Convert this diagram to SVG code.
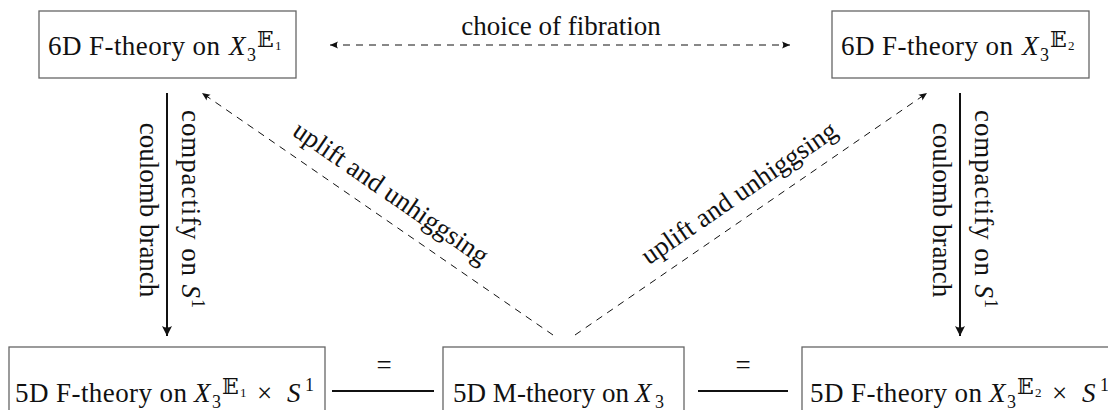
<svg xmlns="http://www.w3.org/2000/svg" width="1108" height="410" viewBox="0 0 1108 410">
<style>
text{font-family:"Liberation Serif","Times New Roman",serif;font-size:27px;fill:#111}
.box{fill:#fff;stroke:#666;stroke-width:1.3}
.it{font-style:italic}
.bb{font-family:"DejaVu Serif","DejaVu Sans",serif;font-size:22px}
.sub{font-size:18px}
.ss{font-size:13px}
.dash{stroke:#111;stroke-width:1;stroke-dasharray:7 6;fill:none}
.solid{stroke:#111;stroke-width:2;fill:none}
.eq{stroke:#111;stroke-width:1.8;fill:none}
</style>
<defs>
<marker id="hs" markerUnits="userSpaceOnUse" orient="auto-start-reverse" overflow="visible" markerWidth="10" markerHeight="10" refX="0" refY="0"><path d="M0,0 L-8,-3.5 Q-5.5,0 -8,3.5 Z" fill="#111"/></marker>
<marker id="hb" markerUnits="userSpaceOnUse" orient="auto" overflow="visible" markerWidth="12" markerHeight="12" refX="0" refY="0"><path d="M0,0 L-10,-5 Q-7,0 -10,5 Z" fill="#111"/></marker>
</defs>

<g id="connectors">
<line class="dash" x1="330" y1="45" x2="790" y2="45" marker-start="url(#hs)" marker-end="url(#hs)"/>
<text x="561" y="35" text-anchor="middle" font-size="26.5">choice of fibration</text>
<line class="solid" x1="167" y1="93" x2="167" y2="336" marker-end="url(#hb)"/>
<text transform="translate(182,209) rotate(90)" text-anchor="middle" font-size="26.5" textLength="198">compactify on <tspan class="it">S</tspan><tspan dy="-10" class="sub">1</tspan></text>
<text transform="translate(140,210) rotate(90)" text-anchor="middle" font-size="26.5">coulomb branch</text>
<line class="solid" x1="960" y1="93" x2="960" y2="336" marker-end="url(#hb)"/>
<text transform="translate(975,209) rotate(90)" text-anchor="middle" font-size="26.5" textLength="198">compactify on <tspan class="it">S</tspan><tspan dy="-10" class="sub">1</tspan></text>
<text transform="translate(933,210) rotate(90)" text-anchor="middle" font-size="26.5">coulomb branch</text>
<line class="dash" x1="553" y1="335" x2="202" y2="93" marker-end="url(#hs)"/>
<text transform="translate(386,200) rotate(34.6)" text-anchor="middle" font-size="26.5">uplift and unhiggsing</text>
<line class="dash" x1="575" y1="335" x2="927" y2="93" marker-end="url(#hs)"/>
<text transform="translate(744,200) rotate(-34.5)" text-anchor="middle" font-size="26.5">uplift and unhiggsing</text>
<line class="eq" x1="332" y1="391" x2="434" y2="391"/>
<text x="384" y="374" text-anchor="middle">=</text>
<line class="eq" x1="698" y1="391" x2="788" y2="391"/>
<text x="743" y="374" text-anchor="middle">=</text>
</g>

<g id="f6e1">
<rect class="box" x="39" y="11" width="257" height="67"/>
<text x="48" y="55" textLength="172">6D F-theory on</text>
<text x="229" y="55" class="it">X</text>
<text x="247" y="61" class="sub">3</text>
<text x="257" y="47" class="bb">𝔼</text>
<text x="275" y="50" class="ss">1</text>
</g>

<g id="f6e2">
<rect class="box" x="832" y="11" width="257" height="67"/>
<text x="841" y="55" textLength="172">6D F-theory on</text>
<text x="1022" y="55" class="it">X</text>
<text x="1040" y="61" class="sub">3</text>
<text x="1050" y="47" class="bb">𝔼</text>
<text x="1068" y="50" class="ss">2</text>
</g>

<g id="f5e1">
<rect class="box" x="9" y="347" width="316" height="88"/>
<text x="15" y="402" textLength="172">5D F-theory on</text>
<text x="194" y="402" class="it">X</text>
<text x="212" y="408" class="sub">3</text>
<text x="222" y="394" class="bb">𝔼</text>
<text x="240" y="397" class="ss">1</text>
<text x="257" y="402">×</text>
<text x="287" y="402" class="it">S</text>
<text x="305" y="391" class="sub">1</text>
</g>

<g id="m5">
<rect class="box" x="443" y="347" width="241" height="88"/>
<text x="453" y="402" textLength="176">5D M-theory on</text>
<text x="635" y="402" class="it">X</text>
<text x="655" y="408" class="sub">3</text>
</g>

<g id="f5e2">
<rect class="box" x="802" y="347" width="316" height="88"/>
<text x="810" y="402" textLength="172">5D F-theory on</text>
<text x="989" y="402" class="it">X</text>
<text x="1007" y="408" class="sub">3</text>
<text x="1017" y="394" class="bb">𝔼</text>
<text x="1035" y="397" class="ss">2</text>
<text x="1052" y="402">×</text>
<text x="1082" y="402" class="it">S</text>
<text x="1100" y="391" class="sub">1</text>
</g>
</svg>
